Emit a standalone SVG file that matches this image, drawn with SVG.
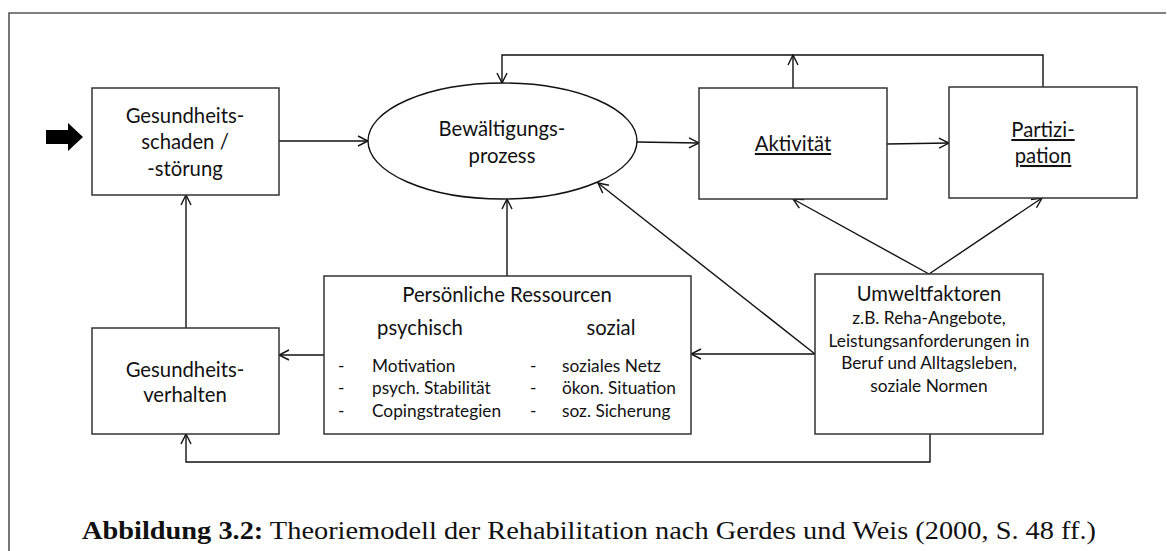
<svg xmlns="http://www.w3.org/2000/svg" width="1167" height="551" viewBox="0 0 1167 551">
  <style>
    .box { fill: #fff; stroke: #333; stroke-width: 1.5; }
    .lbl { font-family: Lato, "Open Sans", sans-serif; font-size: 20.3px; fill: #111; text-anchor: middle; }
    .sm { font-family: Lato, "Open Sans", sans-serif; font-size: 17.3px; fill: #111; }
    .mid { text-anchor: middle; }
    .u { text-decoration: underline; }
    .con { fill: none; stroke: #111; stroke-width: 1.4; }
    .cap { font-family: "Liberation Serif", "DejaVu Serif", serif; font-size: 25.5px; fill: #111; }
  </style>
  <defs>
    <marker id="arr" viewBox="0 0 12 12" refX="11" refY="6" markerWidth="12" markerHeight="12" markerUnits="userSpaceOnUse" orient="auto">
      <path d="M1,1 L11,6 L1,11" fill="none" stroke="#111" stroke-width="1.4"/>
    </marker>
  </defs>
  <rect width="1167" height="551" fill="#fff"/>

  <!-- page frame -->
  <path d="M9,551 V13 H1166" fill="none" stroke="#555" stroke-width="1.6"/>

  <!-- input arrow -->
  <path d="M46,130 H68 V123 L83,137 L68,151 V144 H46 Z" fill="#000"/>

  <!-- connectors -->
  <g id="connectors">
    <line class="con" x1="279" y1="141" x2="368" y2="141" marker-end="url(#arr)"/>
    <line class="con" x1="637" y1="142" x2="699" y2="143" marker-end="url(#arr)"/>
    <line class="con" x1="887" y1="144" x2="949" y2="143" marker-end="url(#arr)"/>
    <path class="con" d="M1043,87 V55 H502 V83" marker-end="url(#arr)"/>
    <line class="con" x1="793" y1="88" x2="793" y2="55" marker-end="url(#arr)"/>
    <line class="con" x1="929" y1="274" x2="793" y2="199" marker-end="url(#arr)"/>
    <line class="con" x1="929" y1="274" x2="1042" y2="198" marker-end="url(#arr)"/>
    <line class="con" x1="815" y1="354" x2="598" y2="183" marker-end="url(#arr)"/>
    <line class="con" x1="815" y1="354" x2="691" y2="354" marker-end="url(#arr)"/>
    <line class="con" x1="507" y1="276" x2="507" y2="199" marker-end="url(#arr)"/>
    <line class="con" x1="324" y1="355" x2="279" y2="355" marker-end="url(#arr)"/>
    <line class="con" x1="186" y1="328" x2="186" y2="195" marker-end="url(#arr)"/>
    <path class="con" d="M930,434 V462 H186 V434" marker-end="url(#arr)"/>
  </g>

  <g id="gesundheitsschaden">
    <rect class="box" x="92" y="88" width="187" height="107"/>
    <text class="lbl" x="185" y="123">Gesundheits-</text>
    <text class="lbl" x="185" y="149">schaden /</text>
    <text class="lbl" x="185" y="176">-störung</text>
  </g>

  <g id="bewaeltigung">
    <ellipse cx="502.5" cy="141" rx="134.5" ry="58" fill="#fff" stroke="#111" stroke-width="1.4"/>
    <text class="lbl" x="502" y="136">Bewältigungs-</text>
    <text class="lbl" x="502" y="163">prozess</text>
  </g>

  <g id="aktivitaet">
    <rect class="box" x="699" y="88" width="188" height="111"/>
    <text class="lbl u" x="793" y="151">Aktivität</text>
  </g>

  <g id="partizipation">
    <rect class="box" x="949" y="87" width="188" height="111"/>
    <text class="lbl u" x="1043" y="137">Partizi-</text>
    <text class="lbl u" x="1043" y="163">pation</text>
  </g>

  <g id="gesundheitsverhalten">
    <rect class="box" x="92" y="328" width="187" height="106"/>
    <text class="lbl" x="185" y="377">Gesundheits-</text>
    <text class="lbl" x="185" y="402">verhalten</text>
  </g>

  <g id="ressourcen">
    <rect class="box" x="324" y="276" width="367" height="158"/>
    <text class="lbl" x="507" y="302">Persönliche Ressourcen</text>
    <text class="lbl" x="420" y="335">psychisch</text>
    <text class="lbl" x="611" y="335">sozial</text>
    <text class="sm" x="338" y="372">-</text>
    <text class="sm" x="338" y="394">-</text>
    <text class="sm" x="338" y="417">-</text>
    <text class="sm" x="372" y="372">Motivation</text>
    <text class="sm" x="372" y="394">psych. Stabilität</text>
    <text class="sm" x="372" y="417">Copingstrategien</text>
    <text class="sm" x="530" y="372">-</text>
    <text class="sm" x="530" y="394">-</text>
    <text class="sm" x="530" y="417">-</text>
    <text class="sm" x="562" y="372">soziales Netz</text>
    <text class="sm" x="562" y="394">ökon. Situation</text>
    <text class="sm" x="562" y="417">soz. Sicherung</text>
  </g>

  <g id="umweltfaktoren">
    <rect class="box" x="815" y="274" width="228" height="160"/>
    <text class="lbl" x="929" y="301">Umweltfaktoren</text>
    <text class="sm mid" x="929" y="324">z.B. Reha-Angebote,</text>
    <text class="sm mid" x="929" y="347">Leistungsanforderungen in</text>
    <text class="sm mid" x="929" y="369">Beruf und Alltagsleben,</text>
    <text class="sm mid" x="929" y="392">soziale Normen</text>
  </g>

  <text class="cap" x="82" y="539" textLength="1014" lengthAdjust="spacingAndGlyphs"><tspan font-weight="bold">Abbildung 3.2:</tspan> Theoriemodell der Rehabilitation nach Gerdes und Weis (2000, S. 48 ff.)</text>
</svg>
